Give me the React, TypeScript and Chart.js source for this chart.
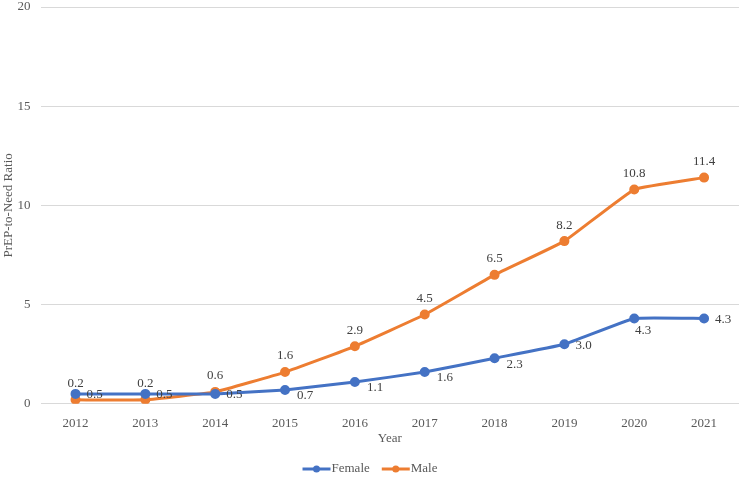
import React, { useRef, useEffect } from 'react';
import Chart from 'chart.js/auto';

// data
const years = ['2012', '2013', '2014', '2015', '2016', '2017', '2018', '2019', '2020', '2021'];
const femaleRatio = [0.5, 0.5, 0.5, 0.7, 1.1, 1.6, 2.3, 3.0, 4.3, 4.3];
const maleRatio = [0.2, 0.2, 0.6, 1.6, 2.9, 4.5, 6.5, 8.2, 10.8, 11.4];
const yTicks = [0, 5, 10, 15, 20];

const FEMALE = '#4472C4';
const MALE = '#ED7D31';
const TEXT = '#595959';
const FONT = '"Liberation Serif", "Times New Roman", serif';

// where each data label sits relative to its point
const femaleLabelPos = ['r', 'r', 'r', 'rb', 'rb', 'rb', 'rb', 'r', 'b', 'r'];
const maleLabelPos = ['t', 't', 't', 't', 't', 't', 't', 't', 't', 't'];

const dataLabels = {
  id: 'dataLabels',
  afterDatasetsDraw(chart: any) {
    const ctx = chart.ctx;
    ctx.save();
    ctx.font = '13px ' + FONT;
    ctx.fillStyle = '#404040';
    ctx.textBaseline = 'middle';
    chart.data.datasets.forEach((ds: any, di: number) => {
      const meta = chart.getDatasetMeta(di);
      const pos = di === 0 ? femaleLabelPos : maleLabelPos;
      meta.data.forEach((pt: any, i: number) => {
        const txt = Number(ds.data[i]).toFixed(1);
        const p = pos[i];
        let x = pt.x;
        let y = pt.y;
        if (p === 't') {
          ctx.textAlign = 'center';
          y -= 16;
        } else if (p === 'b') {
          ctx.textAlign = 'center';
          x += 9;
          y += 12;
        } else if (p === 'r') {
          ctx.textAlign = 'left';
          x += 11;
          y += 1;
        } else {
          ctx.textAlign = 'left';
          x += 12;
          y += 6;
        }
        ctx.fillText(txt, x, y);
      });
    });
    ctx.restore();
  },
};

// excel-style legend: short line with a dot, then the series name
const lineLegend = {
  id: 'lineLegend',
  afterDraw(chart: any) {
    const ctx = chart.ctx;
    ctx.save();
    ctx.font = '13px ' + FONT;
    ctx.textBaseline = 'middle';
    ctx.textAlign = 'left';
    const items = chart.data.datasets.map((ds: any) => ({
      label: ds.label,
      color: ds.borderColor,
      w: 28 + 1 + ctx.measureText(ds.label).width,
    }));
    const gap = 12;
    const total = items.reduce((s: number, it: any) => s + it.w, 0) + gap * (items.length - 1);
    let x = chart.width / 2 - total / 2;
    const y = chart.height - 9;
    items.forEach((it: any) => {
      ctx.strokeStyle = it.color;
      ctx.fillStyle = it.color;
      ctx.lineWidth = 3;
      ctx.beginPath();
      ctx.moveTo(x, y);
      ctx.lineTo(x + 28, y);
      ctx.stroke();
      ctx.beginPath();
      ctx.arc(x + 14, y, 3.5, 0, Math.PI * 2);
      ctx.fill();
      ctx.fillStyle = TEXT;
      ctx.fillText(it.label, x + 29, y);
      x += it.w + gap;
    });
    ctx.restore();
  },
};

const App: React.FC = () => {
  const canvasRef = useRef<HTMLCanvasElement>(null);
  const chartRef = useRef<Chart | null>(null);

  useEffect(() => {
    document.body.style.margin = '0';
    if (!canvasRef.current) return;
    if (chartRef.current) chartRef.current.destroy();

    chartRef.current = new Chart(canvasRef.current, {
      type: 'line',
      data: {
        labels: years,
        datasets: [
          {
            label: 'Female',
            data: femaleRatio,
            borderColor: FEMALE,
            backgroundColor: FEMALE,
            borderWidth: 3,
            pointRadius: 3.5,
            pointHoverRadius: 3.5,
            tension: 0.1,
          },
          {
            label: 'Male',
            data: maleRatio,
            borderColor: MALE,
            backgroundColor: MALE,
            borderWidth: 3,
            pointRadius: 3.5,
            pointHoverRadius: 3.5,
            tension: 0.1,
          },
        ],
      },
      options: {
        animation: false,
        responsive: true,
        maintainAspectRatio: false,
        layout: { autoPadding: false, padding: { left: 1, right: 1, top: 0, bottom: 32 } },
        plugins: {
          tooltip: { enabled: false },
          legend: { display: false },
        },
        scales: {
          x: {
            offset: true,
            grid: { display: false },
            border: { display: false },
            afterFit: (axis: any) => {
              axis.paddingLeft = 0;
              axis.paddingRight = 0;
            },
            ticks: { color: TEXT, padding: 4, font: { family: FONT, size: 13 } },
            title: {
              display: true,
              text: 'Year',
              color: TEXT,
              padding: { top: -5, bottom: 0 },
              font: { family: FONT, size: 13 },
            },
          },
          y: {
            min: 0,
            max: 20,
            afterBuildTicks: (axis: any) => {
              axis.ticks = yTicks.map((v) => ({ value: v }));
            },
            afterFit: (axis: any) => {
              axis.paddingTop = 7;
            },
            grid: { color: '#D9D9D9', drawTicks: false },
            border: { display: false },
            ticks: { color: TEXT, padding: 10, font: { family: FONT, size: 13 } },
            title: {
              display: true,
              text: 'PrEP-to-Need Ratio',
              color: TEXT,
              padding: { top: 0, bottom: -9 },
              font: { family: FONT, size: 13 },
            },
          },
        },
      },
      plugins: [dataLabels, lineLegend],
    });

    return () => {
      if (chartRef.current) {
        chartRef.current.destroy();
        chartRef.current = null;
      }
    };
  }, []);

  return (
    <div style={{ width: '740px', height: '478px', position: 'relative' }}>
      <canvas ref={canvasRef} />
    </div>
  );
};

export default App;
